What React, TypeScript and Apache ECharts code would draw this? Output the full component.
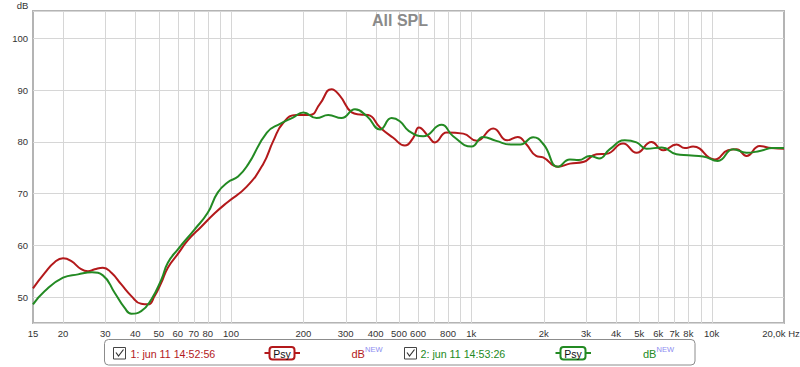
import React, { useEffect, useRef } from "react";
import * as echarts from "echarts";

// ---- Data (frequency in Hz, level in dB) ----
const redFreq = [15, 16.8, 18.5, 20, 21.6, 23.8, 25.4, 27.1, 29.3, 31.8, 34.9, 38.5, 42.3, 45.2, 48.1, 51.3, 54.6, 60, 66.2, 75.2, 85.5, 97, 116, 136, 150, 165, 187, 213, 234, 262, 284, 318, 344, 372, 417, 473, 529, 573, 605, 662, 705, 789, 925, 1052, 1233, 1410, 1560, 1690, 1860, 1990, 2296, 2570, 2918, 3318, 3651, 4281, 4868, 5620, 6282, 7140, 7730, 8370, 10300, 11700, 12700, 13960, 15860, 17730, 20000];
const redDb = [51.7, 54.7, 56.8, 57.5, 57.0, 55.4, 55.0, 55.4, 55.7, 54.7, 52.5, 50.2, 48.7, 48.6, 50.2, 52.8, 55.7, 58.3, 61.0, 63.6, 66.2, 68.4, 71.3, 75.7, 80.2, 83.7, 85.2, 85.2, 87.3, 90.2, 88.9, 85.7, 85.3, 85.2, 82.8, 80.8, 79.3, 80.8, 82.8, 81.1, 79.9, 81.8, 81.6, 80.2, 82.6, 80.3, 80.95, 79.6, 77.3, 77.0, 75.2, 75.8, 76.1, 77.6, 77.7, 79.7, 77.9, 80.0, 78.4, 79.5, 78.8, 79.1, 76.6, 78.4, 78.6, 77.3, 79.2, 78.8, 78.7];

const greenFreq = [15, 16.8, 20, 23.1, 26.4, 29.3, 32.8, 36.1, 38.5, 42.3, 46.6, 51.3, 54.6, 60, 70.6, 80, 88, 97, 107, 118, 141, 160, 181, 200, 227, 254, 288, 328, 367, 417, 466, 504, 550, 630, 752, 840, 1002, 1120, 1270, 1460, 1600, 1808, 2000, 2296, 2570, 2800, 3113, 3400, 3770, 4350, 4868, 5357, 6200, 7140, 8000, 9210, 10600, 12300, 13960, 15860, 18000, 20000];
const greenDb = [48.6, 51.2, 53.75, 54.4, 54.8, 54.2, 50.85, 47.9, 46.8, 47.3, 49.55, 53.4, 56.65, 59.2, 63.1, 66.3, 70.2, 72.2, 73.3, 75.7, 81.8, 83.5, 84.7, 85.7, 84.6, 85.2, 84.6, 86.3, 85.0, 82.4, 84.6, 84.0, 82.1, 81.1, 83.3, 81.1, 79.1, 80.95, 80.2, 79.5, 79.5, 80.9, 79.5, 75.2, 76.6, 76.5, 77.3, 76.8, 78.6, 80.3, 79.9, 78.7, 78.9, 77.6, 77.4, 77.2, 76.3, 78.6, 77.9, 78.25, 78.8, 78.8];

const gridFreqs = [20, 30, 40, 50, 60, 70, 80, 90, 100, 200, 300, 400, 500, 600, 700, 800, 900, 1000, 2000, 3000, 4000, 5000, 6000, 7000, 8000, 9000, 10000];
const tickFreqs = [15, 20, 30, 40, 50, 60, 70, 80, 100, 200, 300, 400, 500, 600, 800, 1000, 2000, 3000, 4000, 5000, 6000, 7000, 8000, 10000, 20000];
const tickLabels = ["15", "20", "30", "40", "50", "60", "70", "80", "100", "200", "300", "400", "500", "600", "800", "1k", "2k", "3k", "4k", "5k", "6k", "7k", "8k", "10k", "20,0k Hz"];

const xMinHz = 15;
const xMaxHz = 20000;
const yMin = 45;
const yMax = 105.3;

const RED = "#b3191b";
const GREEN = "#238a23";
const FONT = "'Liberation Sans', Arial, sans-serif";

function legendGraphics() {
  const els: any[] = [];
  els.push({
    type: "rect",
    shape: { x: 104.5, y: 339.5, width: 590.5, height: 25.5, r: 4 },
    style: { fill: "#fff", stroke: "#8c8c8c", lineWidth: 1 },
  });
  const entries = [
    { cb: 113.5, text: "1: jun 11 14:52:56", tx: 130.5, psy: 269.5, db: 351.5, color: RED },
    { cb: 404.5, text: "2: jun 11 14:53:26", tx: 420.5, psy: 560.5, db: 643, color: GREEN },
  ];
  entries.forEach((e) => {
    els.push({
      type: "rect",
      shape: { x: e.cb, y: 347.5, width: 12, height: 11.5 },
      style: { fill: "#fff", stroke: "#444", lineWidth: 1 },
    });
    els.push({
      type: "polyline",
      shape: { points: [[e.cb + 2.5, 352.5], [e.cb + 5, 356], [e.cb + 10, 349.5]] },
      style: { stroke: "#333", lineWidth: 1.2, fill: null },
    });
    els.push({
      type: "text",
      x: e.tx,
      y: 353.5,
      style: { text: e.text, fill: e.color, fontSize: 10.7, fontFamily: FONT, align: "left", verticalAlign: "middle" },
    });
    els.push({
      type: "line",
      shape: { x1: e.psy - 5, y1: 353, x2: e.psy + 30.5, y2: 353 },
      style: { stroke: e.color, lineWidth: 2 },
    });
    els.push({
      type: "rect",
      shape: { x: e.psy, y: 347, width: 25, height: 12.5, r: 3 },
      style: { fill: "#fff", stroke: e.color, lineWidth: 2 },
    });
    els.push({
      type: "text",
      x: e.psy + 12.5,
      y: 353.5,
      style: { text: "Psy", fill: "#111", fontSize: 10.5, fontFamily: FONT, align: "center", verticalAlign: "middle" },
    });
    els.push({
      type: "text",
      x: e.db,
      y: 354,
      style: { text: "dB", fill: e.color, fontSize: 11, fontFamily: FONT, align: "left", verticalAlign: "middle" },
    });
    els.push({
      type: "text",
      x: e.db + 13.5,
      y: 349,
      style: { text: "NEW", fill: "#8c8cf0", fontSize: 7.5, fontFamily: FONT, align: "left", verticalAlign: "middle" },
    });
  });
  els.push({
    type: "text",
    x: 22.5,
    y: 5,
    style: { text: "dB", fill: "#333", fontSize: 9.5, fontFamily: FONT, align: "center", verticalAlign: "middle" },
  });
  return els;
}

export default function App() {
  const ref = useRef<HTMLDivElement>(null);
  useEffect(() => {
    if (!ref.current) return;
    const chart = echarts.init(ref.current, undefined, { renderer: "svg" });
    const option: any = {
      animation: false,
      backgroundColor: "#fff",
      title: {
        text: "All SPL",
        left: "center",
        top: 12,
        padding: 0,
        textStyle: { color: "#8a8a8a", fontSize: 16, fontWeight: "bold", fontFamily: FONT },
      },
      grid: {
        left: 33,
        right: 16,
        top: 11,
        bottom: 44,
        show: true,
        backgroundColor: "#fff",
        borderColor: "#b4b4b4",
        borderWidth: 2,
      },
      xAxis: {
        type: "value",
        min: Math.log10(xMinHz),
        max: Math.log10(xMaxHz),
        axisLine: { show: false },
        axisTick: { show: false },
        axisLabel: { show: false },
        splitLine: { show: false },
      },
      yAxis: {
        type: "value",
        min: yMin,
        max: yMax,
        splitNumber: 6,
        axisLine: { show: false },
        axisTick: { show: false },
        axisLabel: { color: "#333", fontSize: 9.5, fontFamily: FONT, margin: 5, showMinLabel: false, showMaxLabel: false },
        splitLine: { show: true, lineStyle: { color: "#d6d6d6", width: 1 } },
      },
      graphic: legendGraphics(),
      series: [
        {
          type: "custom",
          z: 1,
          silent: true,
          clip: false,
          data: gridFreqs.map((f) => [Math.log10(f), yMin]),
          encode: { x: 0, y: 1 },
          renderItem: (_p: any, api: any) => {
            const a = api.coord([api.value(0), yMin]);
            const b = api.coord([api.value(0), yMax]);
            const x = Math.round(a[0]) + 0.5;
            return {
              type: "line",
              shape: { x1: x, y1: a[1], x2: x, y2: b[1] },
              style: { stroke: "#d6d6d6", lineWidth: 1 },
            };
          },
        },
        {
          type: "custom",
          z: 1,
          silent: true,
          clip: false,
          data: tickFreqs.map((f, i) => [Math.log10(f), yMin, i]),
          encode: { x: 0, y: 1 },
          renderItem: (_p: any, api: any) => {
            const a = api.coord([api.value(0), yMin]);
            const i = api.value(2);
            const last = i === tickLabels.length - 1;
            return {
              type: "text",
              x: a[0] - (last ? 3 : 0),
              y: a[1] + 10,
              style: {
                text: tickLabels[i],
                fill: "#333",
                fontSize: 9.5,
                fontFamily: FONT,
                align: "center",
                verticalAlign: "middle",
              },
            };
          },
        },
        {
          type: "line",
          z: 3,
          name: "1",
          data: redFreq.map((f, i) => [Math.log10(f), redDb[i]]),
          smooth: 0.5,
          symbol: "none",
          lineStyle: { color: RED, width: 2 },
        },
        {
          type: "line",
          z: 4,
          name: "2",
          data: greenFreq.map((f, i) => [Math.log10(f), greenDb[i]]),
          smooth: 0.5,
          symbol: "none",
          lineStyle: { color: GREEN, width: 2 },
        },
      ],
    };
    chart.setOption(option);
    return () => chart.dispose();
  }, []);
  return (
    <div
      ref={ref}
      style={{ position: "fixed", left: 0, top: 0, width: 800, height: 367 }}
    />
  );
}
